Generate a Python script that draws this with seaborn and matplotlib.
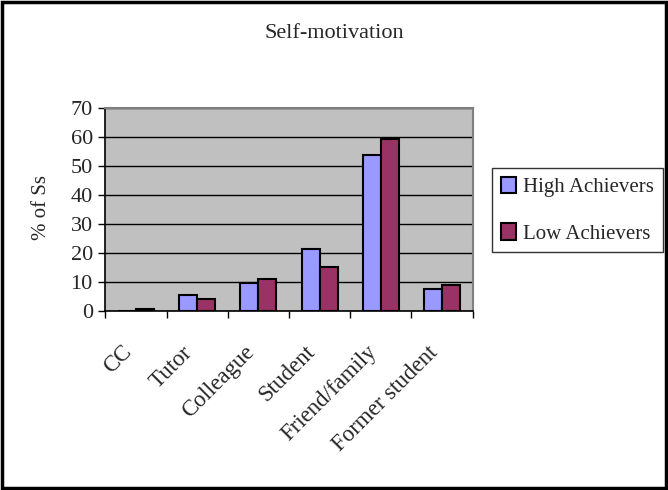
import matplotlib
matplotlib.use("Agg")
import matplotlib.pyplot as plt
from matplotlib.patches import Rectangle, Patch
import seaborn as sns
import pandas as pd

categories = ["CC", "Tutor", "Colleague", "Student", "Friend/family", "Former student"]
high_achievers = [0.0, 5.4, 9.6, 21.2, 53.7, 7.5]
low_achievers = [0.7, 4.1, 10.9, 15.1, 59.2, 9.0]
series_names = ["High Achievers", "Low Achievers"]
y_ticks = [0, 10, 20, 30, 40, 50, 60, 70]

df = pd.DataFrame({
    "category": categories * 2,
    "value": high_achievers + low_achievers,
    "group": [series_names[0]] * len(categories) + [series_names[1]] * len(categories),
})

sns.set_theme(style="white")
plt.rcParams["font.family"] = ["Liberation Serif", "DejaVu Serif"]

colors = {"High Achievers": "#9999FF", "Low Achievers": "#993366"}

W, H = 668, 490
fig = plt.figure(figsize=(W / 100, H / 100), dpi=100)
ax = fig.add_axes([105.3 / W, 1 - 310.7 / H, 367.4 / W, 202.7 / H])
ax.set_facecolor("#C0C0C0")

sns.barplot(data=df, x="category", y="value", hue="group", order=categories,
            hue_order=series_names, palette=colors, saturation=1, width=0.59, gap=0,
            edgecolor="black", linewidth=1.5, ax=ax, legend=False, zorder=3)

ax.set_ylim(0, 70)
ax.set_xlim(-0.5, len(categories) - 0.5)
ax.set_yticks(y_ticks)
ax.set_yticklabels([str(t) for t in y_ticks], fontsize=16)
ax.yaxis.grid(True, color="black", linewidth=1, zorder=1)
ax.set_axisbelow(True)

# tick marks between category groups, labels at group centres
ax.set_xticks([i - 0.5 for i in range(len(categories) + 1)])
ax.set_xticklabels([""] * (len(categories) + 1))
ax.set_xticks(range(len(categories)), minor=True)
ax.set_xticklabels(categories, minor=True, rotation=45, ha="right", va="bottom",
                   rotation_mode="anchor", fontsize=16.5)
ax.tick_params(axis="x", which="minor", length=0, pad=33)
ax.tick_params(axis="x", which="major", length=5, width=1, color="black",
               direction="out", bottom=True)
ax.tick_params(axis="y", length=5, width=1, color="black", direction="out",
               left=True, pad=4)

ax.set_xlabel("")
ax.set_ylabel("% of Ss", fontsize=15)
ax.yaxis.set_label_coords(-0.149, 0.51)

for side in ["top", "right"]:
    ax.spines[side].set_visible(True)
    ax.spines[side].set_color("#808080")
    ax.spines[side].set_linewidth(1.5)
for side in ["left", "bottom"]:
    ax.spines[side].set_color("black")
    ax.spines[side].set_linewidth(1.2)

handles = [Patch(facecolor=colors[n], edgecolor="black", linewidth=1.5) for n in series_names]
leg = fig.legend(handles, series_names, loc="upper left",
                 bbox_to_anchor=(492 / W, 1 - 168 / H), borderaxespad=0,
                 frameon=True, fontsize=15, handlelength=0.72, handleheight=0.82,
                 handletextpad=0.35, labelspacing=1.26, borderpad=0.42,
                 fancybox=False)
leg.get_frame().set_edgecolor("black")
leg.get_frame().set_linewidth(1)

fig.text(0.5, 1 - 33 / H, "Self-motivation", ha="center", va="center", fontsize=16)

fig.patches.append(Rectangle((0.003, 0.004), 0.994, 0.992, transform=fig.transFigure,
                             fill=False, edgecolor="black", linewidth=2.5))

fig.savefig("out.png", dpi=100, facecolor="white")
